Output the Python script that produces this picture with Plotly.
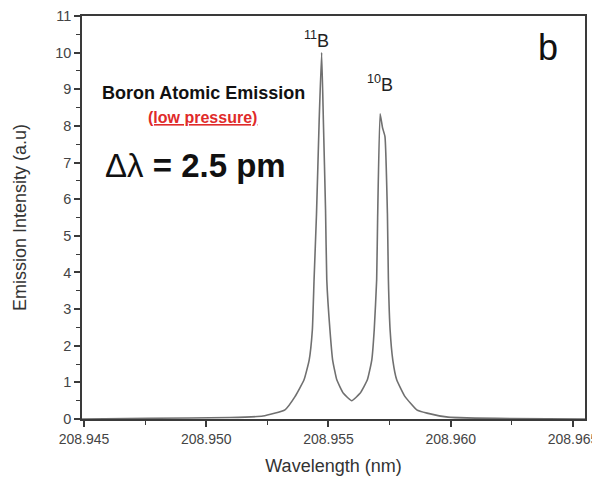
import plotly.graph_objects as go

# Data
wavelength_nm = [208.94492, 208.94770, 208.95097, 208.95232, 208.95322, 208.95363,
                 208.95400, 208.95421, 208.95434, 208.95441, 208.95451, 208.95462,
                 208.95472, 208.95479, 208.95488, 208.95493, 208.95506, 208.95517,
                 208.95534, 208.95561, 208.95595, 208.95629, 208.95659, 208.95677,
                 208.95687, 208.95697, 208.95701, 208.95711, 208.95721, 208.95731,
                 208.95741, 208.95745, 208.95752, 208.95763, 208.95779, 208.95813,
                 208.95861, 208.95903, 208.95989, 208.96242, 208.96549]
intensity = [0.0, 0.02, 0.04, 0.08, 0.25, 0.61,
             1.07, 1.61, 2.43, 3.8, 5.6, 8.17,
             10.0, 8.17, 5.7, 3.8, 2.43, 1.61,
             1.07, 0.70, 0.50, 0.70, 1.07, 1.61,
             2.43, 3.8, 5.5, 8.33, 7.95, 7.71,
             5.6, 3.8, 2.43, 1.61, 1.07, 0.61,
             0.25, 0.16, 0.05, 0.01, 0.0]

peak_labels = ["<sup>11</sup>B", "<sup>10</sup>B"]
peak_x = [208.95472, 208.95711]
peak_y = [10.0, 8.33]

x_ticks = [208.945, 208.950, 208.955, 208.960, 208.965]
x_ticklabels = ["208.945", "208.950", "208.955", "208.960", "208.965"]
y_ticks = list(range(0, 12))

FONT = "Liberation Sans, Arial, sans-serif"
AX = "#3a3a3a"

fig = go.Figure()
fig.add_trace(go.Scatter(
    x=wavelength_nm, y=intensity, mode="lines",
    line=dict(color="#707070", width=1.6, shape="spline", smoothing=0.4),
    showlegend=False, hoverinfo="skip"))

peak_shift = [(-5, 0), (0, 17)]
for lab, px, py, (dx, dy) in zip(peak_labels, peak_x, peak_y, peak_shift):
    fig.add_annotation(x=px, y=py, text=lab, showarrow=False, xanchor="center", yanchor="bottom",
                       yshift=dy, xshift=dx, font=dict(family=FONT, size=18, color="#222"))

fig.add_annotation(x=0.926, y=0.921, xref="paper", yref="paper", text="b", showarrow=False,
                   xanchor="center", yanchor="middle",
                   font=dict(family=FONT, size=36, color="#111"))
fig.add_annotation(x=0.2406, y=0.809, xref="paper", yref="paper",
                   text="<b>Boron Atomic Emission</b>", showarrow=False,
                   xanchor="center", yanchor="middle",
                   font=dict(family=FONT, size=18, color="#111"))
fig.add_annotation(x=0.2386, y=0.747, xref="paper", yref="paper",
                   text="<b><u>(low pressure)</u></b>", showarrow=False,
                   xanchor="center", yanchor="middle",
                   font=dict(family=FONT, size=16, color="#e02a2a"))
fig.add_annotation(x=0.2266, y=0.630, xref="paper", yref="paper",
                   text="Δλ<b> = 2.5 pm</b>", showarrow=False,
                   xanchor="center", yanchor="middle",
                   font=dict(family=FONT, size=33, color="#111"))

fig.update_layout(
    width=592, height=472,
    margin=dict(l=74, r=15, t=8, b=61),
    paper_bgcolor="white", plot_bgcolor="white",
    font=dict(family=FONT, color="#333"),
    xaxis=dict(range=[208.94492, 208.96549], tickvals=x_ticks, ticktext=x_ticklabels,
               ticks="outside", ticklen=6, tickwidth=1.5, tickcolor=AX,
               minor=dict(dtick=0.0025, tick0=208.945, ticks="outside", ticklen=4, tickcolor=AX, tickwidth=1.3),
               showline=True, linecolor=AX, linewidth=1.6, mirror=True, automargin=False,
               showgrid=False, zeroline=False, tickfont=dict(size=14, color="#444"),
               title=dict(text="Wavelength (nm)", font=dict(size=18, color="#333"), standoff=14)),
    yaxis=dict(range=[0, 11], tickvals=y_ticks,
               ticks="outside", ticklen=6, tickwidth=1.5, tickcolor=AX,
               minor=dict(dtick=0.5, ticks="outside", ticklen=4, tickcolor=AX, tickwidth=1.3),
               showline=True, linecolor=AX, linewidth=1.6, mirror=True, automargin=False,
               showgrid=False, zeroline=False, tickfont=dict(size=14.5, color="#444"),
               title=dict(text="Emission Intensity (a.u)", font=dict(size=18, color="#333"), standoff=24)),
)

fig.write_html("out.html")
